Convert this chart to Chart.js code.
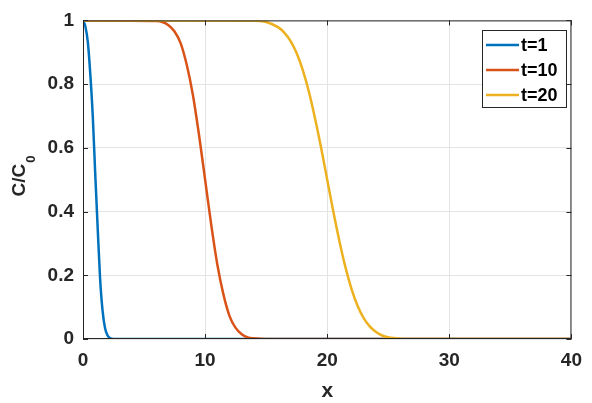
<!DOCTYPE html>
<html>
<head>
<meta charset="utf-8">
<script src="https://cdn.jsdelivr.net/npm/chart.js@4"></script>
<style>
  html, body { margin: 0; padding: 0; background: #ffffff; }
  #wrap { width: 592px; height: 403px; position: relative; }
</style>
</head>
<body>
<div id="wrap"><canvas id="c" width="592" height="403"></canvas></div>
<script>
// ---- data ----
const seriesLabels = ['t=1', 't=10', 't=20'];

const xT1 = [0, 0.2, 0.4, 0.6, 0.8, 1.0, 1.2, 1.4, 1.6, 1.8, 2.0, 2.2, 2.5, 40];
const yT1 = [1.0, 0.98, 0.93, 0.83, 0.70, 0.52, 0.35, 0.19, 0.09, 0.035, 0.012, 0.003, 0, 0];

const xT10 = [0, 6, 6.5, 7, 7.5, 8, 8.5, 9, 9.5, 10, 10.5, 11, 11.5, 12, 12.5, 13, 13.5, 14, 15, 40];
const yT10 = [1.0, 0.998, 0.995, 0.985, 0.965, 0.928, 0.86, 0.766, 0.641, 0.5, 0.359, 0.234, 0.14, 0.072, 0.035, 0.015, 0.005, 0.002, 0, 0];

const xT20 = [0, 14, 15, 16, 16.5, 17, 17.5, 18, 18.5, 19, 19.5, 20, 20.5, 21, 21.5, 22, 22.5, 23, 23.5, 24, 24.5, 25, 26, 27, 40];
const yT20 = [1.0, 0.999, 0.995, 0.978, 0.961, 0.935, 0.897, 0.844, 0.776, 0.693, 0.60, 0.5, 0.40, 0.307, 0.224, 0.156, 0.103, 0.065, 0.039, 0.022, 0.011, 0.0055, 0.001, 0, 0];

const xTicks = [0, 10, 20, 30, 40];
const yTicks = [0, 0.2, 0.4, 0.6, 0.8, 1];
const xTickLabels = ['0', '10', '20', '30', '40'];
const yTickLabels = ['0', '0.2', '0.4', '0.6', '0.8', '1'];
const xTitle = 'x';
const yTitleMain = 'C/C';
const yTitleSub = '0';

const colors = ['#0072BD', '#D95319', '#EDB120'];

function pts(xs, ys) { return xs.map((x, i) => ({ x: x, y: ys[i] })); }

const AXIS = '#262626';
const FONT = '"Liberation Sans", Arial, Helvetica, sans-serif';

const decor = {
  id: 'decor',
  afterDatasetsDraw(chart) {
    const ctx = chart.ctx;
    const a = chart.chartArea;
    const xs = chart.scales.x, ys = chart.scales.y;
    ctx.save();
    ctx.strokeStyle = AXIS;
    ctx.lineWidth = 1;
    ctx.beginPath();
    ctx.moveTo(a.left + 0.5, a.top + 0.5);
    ctx.lineTo(a.right - 0.5, a.top + 0.5);
    ctx.lineTo(a.right - 0.5, a.bottom - 0.5);
    ctx.moveTo(a.left + 0.5, a.top + 0.5);
    ctx.lineTo(a.left + 0.5, a.bottom - 0.5);
    ctx.lineTo(a.right - 0.5, a.bottom - 0.5);
    ctx.stroke();
    const tl = 5;
    ctx.beginPath();
    xTicks.forEach(v => {
      const p = Math.round(xs.getPixelForValue(v)) + 0.5;
      ctx.moveTo(p, a.bottom); ctx.lineTo(p, a.bottom - tl);
      ctx.moveTo(p, a.top); ctx.lineTo(p, a.top + tl);
    });
    yTicks.forEach(v => {
      const p = Math.round(ys.getPixelForValue(v)) + 0.5;
      ctx.moveTo(a.left, p); ctx.lineTo(a.left + tl, p);
      ctx.moveTo(a.right, p); ctx.lineTo(a.right - tl, p);
    });
    ctx.stroke();
    ctx.restore();
  },
  afterDraw(chart) {
    const ctx = chart.ctx;
    const a = chart.chartArea;
    ctx.save();
    ctx.fillStyle = AXIS;
    ctx.font = 'bold 21px ' + FONT;
    ctx.textAlign = 'center';
    ctx.textBaseline = 'alphabetic';
    ctx.fillText(xTitle, (a.left + a.right) / 2, 397);
    ctx.translate(25, 176);
    ctx.rotate(-Math.PI / 2);
    ctx.font = 'bold 19px ' + FONT;
    const wMain = ctx.measureText(yTitleMain).width;
    ctx.font = 'bold 13px ' + FONT;
    const wSub = ctx.measureText(yTitleSub).width;
    const total = wMain + wSub + 1;
    ctx.textAlign = 'left';
    ctx.font = 'bold 19px ' + FONT;
    ctx.fillText(yTitleMain, -total / 2, 0);
    ctx.font = 'bold 13px ' + FONT;
    ctx.fillText(yTitleSub, -total / 2 + wMain + 1, 10);
    ctx.restore();

    ctx.save();
    const bx = 482, by = 30, bw = 84, bh = 77;
    ctx.fillStyle = '#ffffff';
    ctx.fillRect(bx, by, bw, bh);
    ctx.strokeStyle = AXIS;
    ctx.lineWidth = 1;
    ctx.strokeRect(bx + 0.5, by + 0.5, bw, bh);
    ctx.font = 'bold 18px ' + FONT;
    ctx.textAlign = 'left';
    ctx.textBaseline = 'middle';
    chart.data.datasets.forEach((ds, i) => {
      const cy = 45 + i * 25;
      ctx.strokeStyle = ds.borderColor;
      ctx.lineWidth = 2.5;
      ctx.beginPath();
      ctx.moveTo(486, cy); ctx.lineTo(519, cy);
      ctx.stroke();
      ctx.fillStyle = '#000000';
      ctx.fillText(ds.label, 521, cy + 1);
    });
    ctx.restore();
  }
};

new Chart(document.getElementById('c'), {
  type: 'line',
  data: {
    datasets: [
      { label: seriesLabels[0], data: pts(xT1, yT1), borderColor: colors[0], order: 3 },
      { label: seriesLabels[1], data: pts(xT10, yT10), borderColor: colors[1], order: 2 },
      { label: seriesLabels[2], data: pts(xT20, yT20), borderColor: colors[2], order: 1 }
    ].map(d => Object.assign(d, {
      borderWidth: 2.5, pointRadius: 0, fill: false,
      cubicInterpolationMode: 'monotone', backgroundColor: d.borderColor
    }))
  },
  options: {
    responsive: false,
    animation: false,
    devicePixelRatio: 1,
    layout: { padding: { left: 0, top: 15, right: 14, bottom: 0 } },
    plugins: { legend: { display: false }, tooltip: { enabled: false } },
    scales: {
      x: {
        type: 'linear', min: 0, max: 40,
        afterBuildTicks: s => { s.ticks = xTicks.map(v => ({ value: v })); },
        afterFit: s => { s.height = 64; },
        ticks: {
          color: AXIS, font: { family: FONT, size: 19, weight: 'bold' }, padding: 10, maxRotation: 0,
          callback: (v) => { const i = xTicks.indexOf(v); return i >= 0 ? xTickLabels[i] : ''; }
        },
        grid: { color: '#e3e3e3', drawTicks: false },
        border: { display: false }
      },
      y: {
        type: 'linear', min: 0, max: 1,
        afterBuildTicks: s => { s.ticks = yTicks.map(v => ({ value: v })); },
        afterFit: s => { s.width = 83; },
        ticks: {
          color: AXIS, font: { family: FONT, size: 19, weight: 'bold' }, padding: 9,
          callback: (v) => { const i = yTicks.findIndex(t => Math.abs(t - v) < 1e-9); return i >= 0 ? yTickLabels[i] : ''; }
        },
        grid: { color: '#e3e3e3', drawTicks: false },
        border: { display: false }
      }
    }
  },
  plugins: [decor]
});
</script>
</body>
</html>
